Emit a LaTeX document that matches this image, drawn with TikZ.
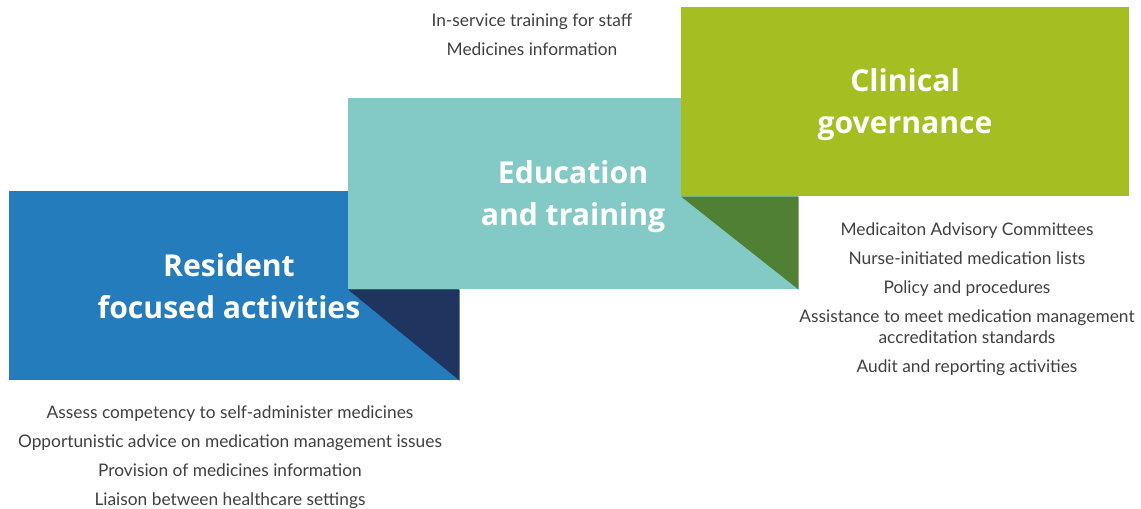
\documentclass[tikz,border=0pt]{standalone}
\usepackage{fontspec}
\setmainfont{Open Sans}
\newfontfamily\listfont{Lato}
\definecolor{BlueClr}{RGB}{36,124,188}
\definecolor{NavyClr}{RGB}{31,53,96}
\definecolor{TealClr}{RGB}{131,202,198}
\definecolor{GreenClr}{RGB}{165,191,34}
\definecolor{DarkGreenClr}{RGB}{80,128,52}
\definecolor{TextClr}{RGB}{64,64,64}

\begin{document}
\begin{tikzpicture}[x=0.75pt,y=-0.75pt,
  panel/.style={draw=none,inner sep=0pt,anchor=north west},
  heading/.style={text=white,font=\fontsize{22.6}{31.5}\selectfont\bfseries,align=center},
  items/.style={text=TextClr,font=\listfont\fontsize{13}{15.75}\selectfont,align=center}]
\useasboundingbox (0,0) rectangle (1141,508);

% The three panels, each one stepped up and to the right.
\node[panel,fill=BlueClr,minimum width=337.5pt,minimum height=141.75pt] (blue) at (9,191) {};
\node[panel,fill=TealClr,minimum width=337.5pt,minimum height=143.25pt] (teal) at (348,98) {};
\node[panel,fill=GreenClr,minimum width=336pt,minimum height=141.75pt] (green) at (681,7) {};

% Shadow triangles under the corners of the upper panels.
\fill[NavyClr] (teal.south west) -- (teal.south west -| blue.east) -- (blue.south east) -- cycle;
\fill[DarkGreenClr] (green.south west) -- (green.south west -| teal.east) -- (teal.south east) -- cycle;

% Panel titles.
\node[heading] (residentTitle) at (229,286) {Resident\\focused activities};
\node[heading] (educationTitle) at (573,197) {Education\\and training};
\node[heading] (clinicalTitle) at (905,105) {Clinical\\governance};

% Lists of activities.
\node[items] (educationList) at (532,35) {In-service training for staff\\[6pt]Medicines information};
\node[items] (clinicalList) at (967,299) {Medicaiton Advisory Committees\\[6pt]
  Nurse-initiated medication lists\\[6pt]
  Policy and procedures\\[6pt]
  Assistance to meet medication management\\accreditation standards\\[6pt]
  Audit and reporting activities};
\node[items] (residentList) at (230,457) {Assess competency to self-administer medicines\\[6pt]
  Opportunistic advice on medication management issues\\[6pt]
  Provision of medicines information\\[6pt]
  Liaison between healthcare settings};

\end{tikzpicture}
\end{document}
